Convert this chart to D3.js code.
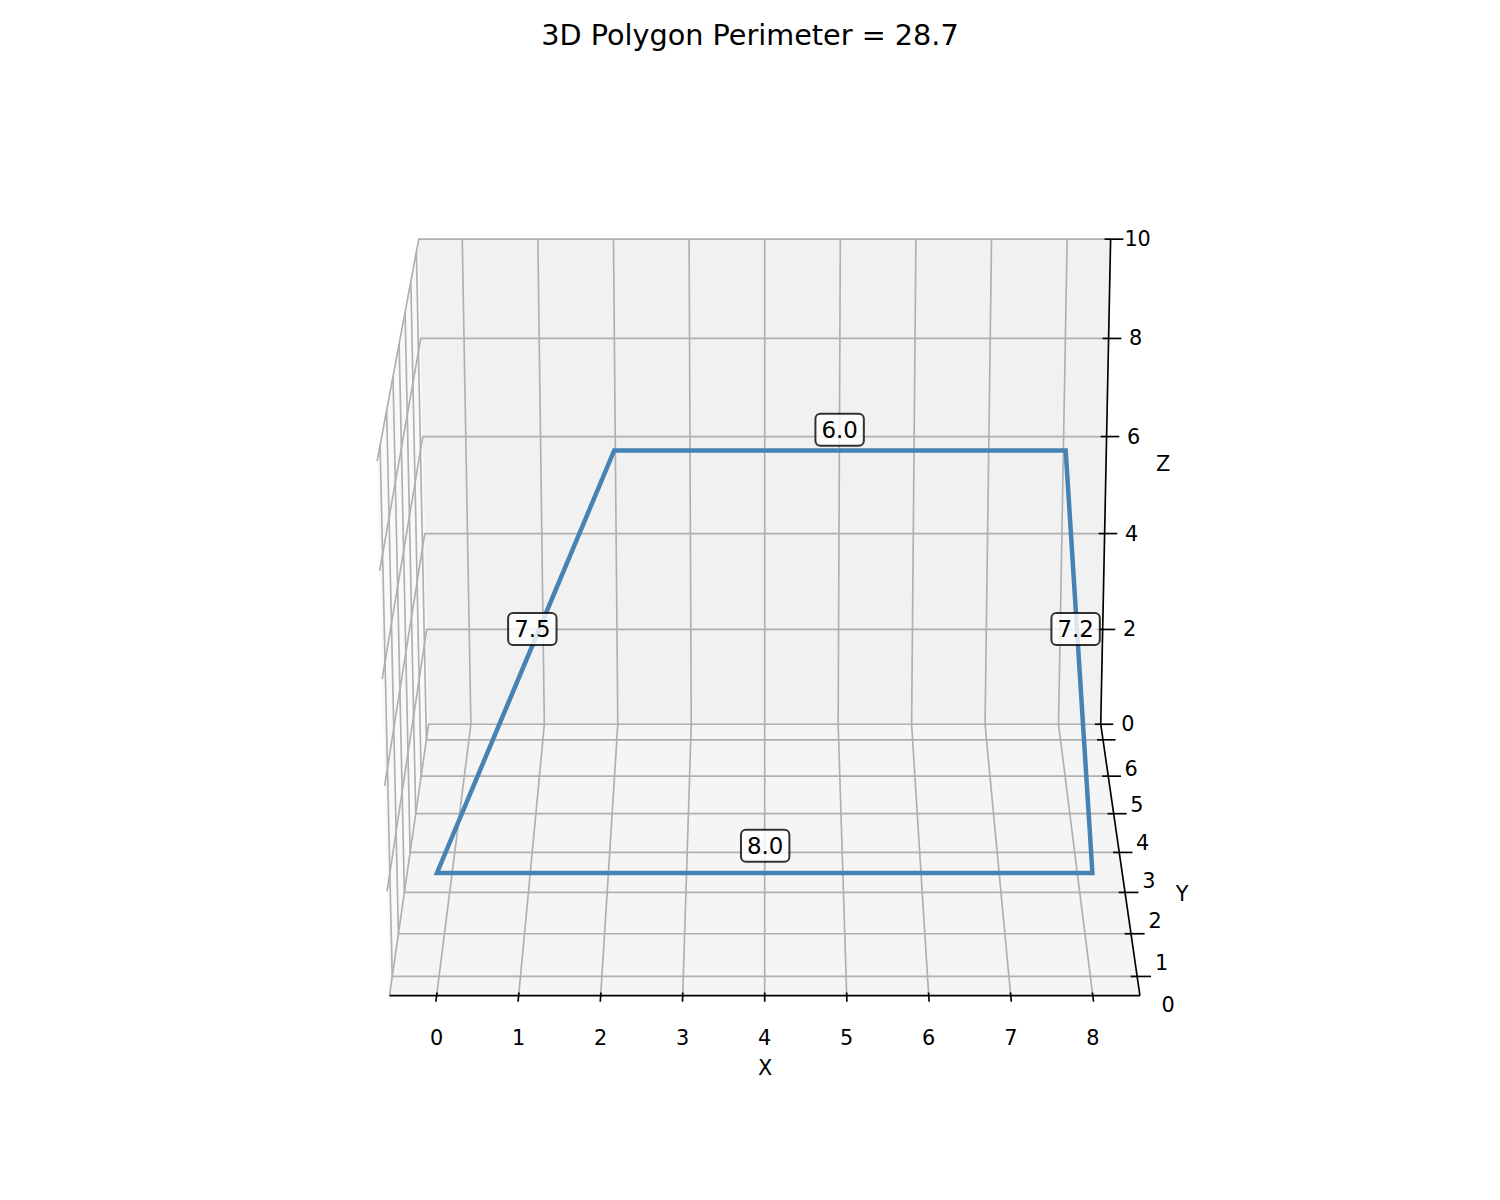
<!DOCTYPE html>
<html>
<head>
<meta charset="utf-8">
<title>3D Polygon Perimeter</title>
<script src="https://cdn.jsdelivr.net/npm/d3@7"></script>
<style>
	html, body { margin: 0; background: #fff; }
	text { font-family: "DejaVu Sans", sans-serif; fill: #000; }
</style>
</head>
<body>
<svg id="chart" width="1500" height="1200"></svg>
<script>
// Polygon corners
const cornerX = [0, 8, 8, 2];
const cornerY = [0, 0, 6, 6];
const cornerZ = [2, 2, 6, 6];
const edgeLengths = [8.0, 7.2, 6.0, 7.5];

const xTicks = [0, 1, 2, 3, 4, 5, 6, 7, 8];
const yTicks = [0, 1, 2, 3, 4, 5, 6];
const zTicks = [0, 2, 4, 6, 8, 10];

const xLimits = [-0.575, 8.575];
const yLimits = [-0.4375, 6.4375];
const zLimits = [0, 10];

const titleText = "3D Polygon Perimeter = 28.7";

// Camera, same maths as a matplotlib 3D axes with azim = -90
const elev = (20 * Math.PI) / 180;
const dist = 10;
const boxX = 1.19;
const boxY = 1.19;
const boxZ = 0.893;

const worldX = d3.scaleLinear().domain(xLimits).range([-boxX / 2, boxX / 2]);
const worldY = d3.scaleLinear().domain(yLimits).range([-boxY / 2, boxY / 2]);
const worldZ = d3.scaleLinear().domain(zLimits).range([-boxZ / 2, boxZ / 2]);

// Projected view coordinates to pixels
const screenX = d3.scaleLinear().domain([0, 0.1]).range([764.7, 764.7 + 605]);
const screenY = d3.scaleLinear().domain([0, 0.1]).range([602, 602 - 606]);

function project(x, y, z) {
	const wx = worldX(x);
	const wy = worldY(y);
	const wz = worldZ(z);
	const depth = dist + wy * Math.cos(elev) - wz * Math.sin(elev);
	const u = wx / depth;
	const v = (wy * Math.sin(elev) + wz * Math.cos(elev)) / depth;
	return [screenX(u), screenY(v)];
}

const svg = d3.select("#chart");
const line3d = d3.line().x((d) => project(...d)[0]).y((d) => project(...d)[1]);

const [x0, x1] = xLimits;
const [y0, y1] = yLimits;
const [z0, z1] = zLimits;

// Panes
const panes = [
	{ fill: "#f9f9f9", pts: [[x0, y0, z0], [x0, y1, z0], [x0, y1, z1], [x0, y0, z1]] },
	{ fill: "#f1f1f1", pts: [[x0, y1, z0], [x1, y1, z0], [x1, y1, z1], [x0, y1, z1]] },
	{ fill: "#f5f5f5", pts: [[x0, y0, z0], [x1, y0, z0], [x1, y1, z0], [x0, y1, z0]] },
];
svg.selectAll(".pane")
	.data(panes)
	.join("path")
	.attr("class", "pane")
	.attr("fill", (d) => d.fill)
	.attr("d", (d) => line3d(d.pts) + "Z");

// Grid lines run along two panes for every tick
const gridLines = [
	...xTicks.map((t) => [[t, y0, z0], [t, y1, z0], [t, y1, z1]]),
	...yTicks.map((t) => [[x1, t, z0], [x0, t, z0], [x0, t, z1]]),
	...zTicks.map((t) => [[x0, y0, t], [x0, y1, t], [x1, y1, t]]),
];
svg.selectAll(".grid")
	.data(gridLines)
	.join("path")
	.attr("class", "grid")
	.attr("fill", "none")
	.attr("stroke", "#b0b0b0")
	.attr("stroke-width", 1.67)
	.attr("d", line3d);

// Axis lines
const axisLines = [
	[[x0, y0, z0], [x1, y0, z0]],
	[[x1, y0, z0], [x1, y1, z0]],
	[[x1, y1, z0], [x1, y1, z1]],
];
svg.selectAll(".axis")
	.data(axisLines)
	.join("path")
	.attr("class", "axis")
	.attr("fill", "none")
	.attr("stroke", "#000")
	.attr("stroke-width", 1.67)
	.attr("d", line3d);

// Tick marks
const tickMarks = [
	...xTicks.map((t) => [[t, y0 + 0.07, z0], [t, y0 - 0.14, z0]]),
	...yTicks.map((t) => [[x1 - 0.08, t, z0], [x1 + 0.17, t, z0]]),
	...zTicks.map((t) => [[x1 - 0.08, y1, t], [x1 + 0.17, y1, t]]),
];
svg.selectAll(".tick")
	.data(tickMarks)
	.join("path")
	.attr("class", "tick")
	.attr("stroke", "#000")
	.attr("stroke-width", 1.67)
	.attr("d", line3d);

// Polygon
const corners = cornerX.map((x, i) => [x, cornerY[i], cornerZ[i]]);
svg.append("path")
	.attr("fill", "none")
	.attr("stroke", "steelblue")
	.attr("stroke-width", 4.5)
	.attr("stroke-linejoin", "miter")
	.attr("d", line3d(corners) + "Z");

// Tick labels
function addText(pos, str, size) {
	return svg.append("text")
		.attr("x", pos[0])
		.attr("y", pos[1])
		.attr("text-anchor", "middle")
		.attr("dominant-baseline", "central")
		.attr("font-size", size)
		.text(str);
}
const tickFont = 20.8;
const yLabelShift = d3.scaleLinear().domain([0, 6]).range([31, 28]);
xTicks.forEach((t) => {
	const p = project(t, y0, z0);
	addText([p[0], p[1] + 42], t, tickFont);
});
yTicks.forEach((t) => {
	const p = project(x1, t, z0);
	addText([p[0] + yLabelShift(t), p[1] + 29], t, tickFont);
});
zTicks.forEach((t) => {
	const p = project(x1, y1, t);
	addText([p[0] + 27, p[1]], t, tickFont);
});

// Axis titles
addText([765, 1068], "X", tickFont);
addText([1182, 894], "Y", tickFont);
addText([1163, 464], "Z", tickFont);

// Edge length boxes sit just under half a z unit above the edge midpoint, pulled slightly to the centre
const labelFont = 22.9;
const centre = [d3.mean(cornerX), d3.mean(cornerY), d3.mean(cornerZ)];
const pull = 0.012;
corners.forEach((c, i) => {
	const n = corners[(i + 1) % corners.length];
	const mid = c.map((v, k) => (v + n[k]) / 2);
	const at = mid.map((v, k) => v + (centre[k] - v) * pull);
	const p = project(at[0], at[1], at[2] + 0.47);
	const g = svg.append("g");
	const label = edgeLengths[i].toFixed(1);
	const t = addText(p, label, labelFont);
	const w = t.node().getComputedTextLength();
	g.append("rect")
		.attr("x", p[0] - w / 2 - 6)
		.attr("y", p[1] - 16)
		.attr("width", w + 12)
		.attr("height", 32)
		.attr("rx", 5)
		.attr("fill", "#fff")
		.attr("fill-opacity", 0.8)
		.attr("stroke", "#000")
		.attr("stroke-opacity", 0.8)
		.attr("stroke-width", 2);
	g.node().appendChild(t.node());
});

// Title
addText([750, 35], titleText, 28.7);
</script>
</body>
</html>
